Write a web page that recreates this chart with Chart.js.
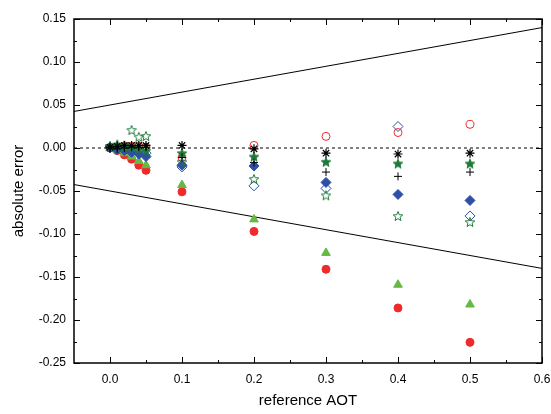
<!DOCTYPE html>
<html>
<head>
<meta charset="utf-8">
<script src="https://cdn.jsdelivr.net/npm/chart.js@4/dist/chart.umd.min.js"></script>
<style>
  html, body { margin: 0; padding: 0; background: #fff; }
  #wrap { width: 551px; height: 414px; }
</style>
</head>
<body>
<div id="wrap"><canvas id="errChart" width="551" height="414"></canvas></div>
<script>
// reference AOT values
const aot = [0, 0.01, 0.02, 0.03, 0.04, 0.05, 0.1, 0.2, 0.3, 0.4, 0.5];

// absolute error per retrieval case
const redFilled    = [0, -0.003, -0.008, -0.013, -0.02, -0.026, -0.051, -0.097, -0.141, -0.186, -0.226];
const redOpen      = [0, 0.001, 0.002, 0.002, 0.002, 0.001, -0.011, 0.003, 0.0135, 0.018, 0.0275];
const greenTri     = [0, -0.002, -0.006, -0.01, -0.015, -0.02, -0.043, -0.083, -0.122, -0.159, -0.182];
const blueFilled   = [0, -0.002, -0.003, -0.005, -0.007, -0.01, -0.02, -0.021, -0.04, -0.054, -0.061];
const blueOpen     = [0.001, 0, -0.002, -0.004, -0.004, -0.006, -0.022, -0.044, -0.047, 0.025, -0.079];
const starFilled   = [0.002, 0.003, 0.002, 0.001, -0.001, -0.003, -0.006, -0.01, -0.016, -0.018, -0.018];
const starOpen     = [0.002, 0.004, 0.003, 0.021, 0.013, 0.014, -0.016, -0.036, -0.055, -0.079, -0.086];
const asterisk     = [0.001, 0.002, 0.003, 0.003, 0.003, 0.003, 0.003, -0.001, -0.006, -0.007, -0.006];
const plusMark     = [0, -0.001, 0, 0.001, 0.001, 0.001, -0.011, -0.017, -0.028, -0.033, -0.028];

// expected error envelope +/-(0.05 + 0.15*AOT)
const envX     = [-0.05, 0.6];
const envUpper = [0.0425, 0.14];
const envLower = [-0.0425, -0.14];
const zeroLine = [0, 0];

const xTicks = [0, 0.1, 0.2, 0.3, 0.4, 0.5, 0.6];
const xMinor = [0.05, 0.15, 0.25, 0.35, 0.45, 0.55];
const yTicks = [-0.25, -0.2, -0.15, -0.1, -0.05, 0, 0.05, 0.1, 0.15];
const yMinor = [-0.225, -0.175, -0.125, -0.075, -0.025, 0.025, 0.075, 0.125];

const RED = '#ee2a2a', LGREEN = '#66b844', BLUE = '#2f4fa6', DGREEN = '#1f7a3a';

function starImage(fill, stroke) {
  const c = document.createElement('canvas');
  c.width = 12; c.height = 12;
  const g = c.getContext('2d');
  g.beginPath();
  for (let i = 0; i < 10; i++) {
    const r = i % 2 ? 2.2 : 5;
    const a = -Math.PI / 2 + i * Math.PI / 5;
    g.lineTo(6 + r * Math.cos(a), 6.5 + r * Math.sin(a));
  }
  g.closePath();
  if (fill) { g.fillStyle = fill; g.fill(); }
  g.strokeStyle = stroke;
  g.lineWidth = 1;
  g.stroke();
  return c;
}

const pts = ys => aot.map((x, i) => ({ x: x, y: ys[i] }));
const line = ys => envX.map((x, i) => ({ x: x, y: ys[i] }));

function marks(ys, style, fill, border, radius, width) {
  return {
    type: 'scatter', data: pts(ys), pointStyle: style, pointRadius: radius,
    backgroundColor: fill, borderColor: border, borderWidth: width || 1, showLine: false
  };
}

function refLine(ys, dash) {
  return {
    type: 'line', data: line(ys), borderColor: '#000', borderWidth: 1,
    borderDash: dash, pointRadius: 0, fill: false
  };
}

// frame and inward tick marks on all four sides
const frameTicks = {
  id: 'frameTicks',
  afterDraw(chart) {
    const { ctx, chartArea: a, scales: { x, y } } = chart;
    ctx.save();
    ctx.strokeStyle = '#000';
    ctx.lineWidth = 1;
    ctx.beginPath();
    const tick = (px, len, vertical) => {
      const p = Math.round(px) + 0.5;
      if (vertical) {
        ctx.moveTo(p, a.bottom); ctx.lineTo(p, a.bottom - len);
        ctx.moveTo(p, a.top); ctx.lineTo(p, a.top + len);
      } else {
        ctx.moveTo(a.left, p); ctx.lineTo(a.left + len, p);
        ctx.moveTo(a.right, p); ctx.lineTo(a.right - len, p);
      }
    };
    xTicks.forEach(v => tick(x.getPixelForValue(v), 6, true));
    xMinor.forEach(v => tick(x.getPixelForValue(v), 3, true));
    yTicks.forEach(v => tick(y.getPixelForValue(v), 6, false));
    yMinor.forEach(v => tick(y.getPixelForValue(v), 3, false));
    ctx.stroke();
    ctx.lineWidth = 1.5;
    ctx.strokeRect(a.left, a.top, a.right - a.left, a.bottom - a.top);
    ctx.restore();
  }
};

const font = { family: 'Liberation Sans, Arial, sans-serif', size: 12 };
const titleFont = { family: 'Liberation Sans, Arial, sans-serif', size: 15 };

new Chart(document.getElementById('errChart').getContext('2d'), {
  type: 'scatter',
  data: {
    datasets: [
      marks(asterisk, 'star', '#000', '#000', 4.5, 1.2),
      marks(plusMark, 'cross', '#000', '#000', 4),
      marks(starFilled, starImage(DGREEN, DGREEN), DGREEN, DGREEN, 6),
      marks(starOpen, starImage(null, DGREEN), DGREEN, DGREEN, 6),
      marks(blueOpen, 'rectRot', 'rgba(0,0,0,0)', BLUE, 5),
      marks(blueFilled, 'rectRot', BLUE, BLUE, 5),
      marks(redOpen, 'circle', 'rgba(0,0,0,0)', RED, 4),
      marks(greenTri, 'triangle', LGREEN, LGREEN, 5),
      marks(redFilled, 'circle', RED, RED, 4),
      refLine(envUpper, []),
      refLine(envLower, []),
      refLine(zeroLine, [3, 3])
    ]
  },
  options: {
    responsive: false,
    animation: false,
    layout: { padding: { top: 19, right: 9, left: 0, bottom: 0 } },
    plugins: { legend: { display: false }, tooltip: { enabled: false } },
    scales: {
      x: {
        type: 'linear', min: -0.05, max: 0.6,
        afterBuildTicks: s => { s.ticks = xTicks.map(v => ({ value: v })); },
        afterFit: s => { s.height = 51; s.paddingRight = 0; s.paddingLeft = 0; },
        ticks: { callback: v => v.toFixed(1), font: font, color: '#000', padding: 9, maxRotation: 0 },
        grid: { display: false, drawTicks: false },
        border: { display: false },
        title: { display: true, text: 'reference AOT', font: titleFont, color: '#000', padding: { top: 12 } }
      },
      y: {
        type: 'linear', min: -0.25, max: 0.15,
        afterBuildTicks: s => { s.ticks = yTicks.map(v => ({ value: v })); },
        afterFit: s => { s.width = 74; s.paddingTop = 0; s.paddingBottom = 0; },
        ticks: { callback: v => v.toFixed(2), font: font, color: '#000', padding: 8 },
        grid: { display: false, drawTicks: false },
        border: { display: false },
        title: { display: true, text: 'absolute error', font: titleFont, color: '#000', padding: { top: 10, bottom: 0 } }
      }
    }
  },
  plugins: [frameTicks]
});
</script>
</body>
</html>
